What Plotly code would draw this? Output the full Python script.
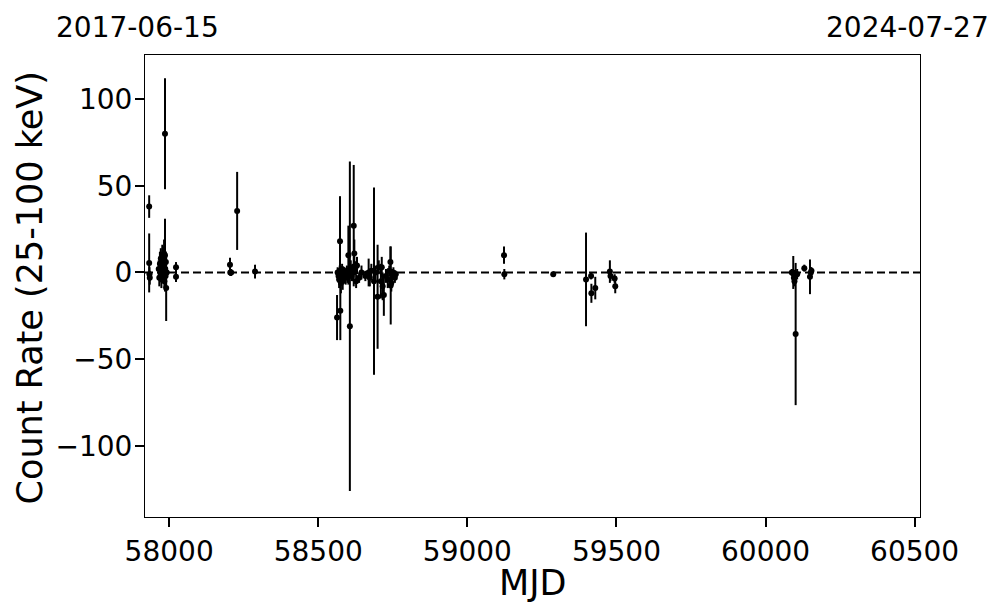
import plotly.graph_objects as go

# ---- data ----
mjd = [
    57933, 57933, 57934, 57935,
    57965, 57967, 57969, 57971, 57972, 57974, 57975, 57977, 57978, 57979,
    57981, 57983, 57984, 57986, 57986, 57987, 57988, 57989, 57990, 57992,
    58023, 58023, 58204, 58205, 58208, 58228, 58288,
    58563, 58565, 58568, 58570, 58572, 58573, 58574, 58576, 58578, 58580,
    58582, 58585, 58588, 58592, 58596, 58598, 58601, 58606, 58609, 58612,
    58616, 58619, 58621, 58624, 58627, 58630, 58637, 58645, 58658, 58669,
    58673, 58678, 58687, 58692, 58699, 58703, 58710, 58713, 58716, 58720,
    58727, 58733, 58738, 58742, 58743, 58745, 58748, 58752, 58757, 58760,
    59123, 59124, 59288, 59398, 59415, 59416, 59429, 59478, 59480, 59494,
    59496,
    60088, 60093, 60095, 60097, 60101, 60106, 60130, 60149, 60152, 60154,
]
rate = [
    38, 5.5, -1, -3,
    2, -3, 5, 0, 8, -4, 3, 10, -2, 7,
    0, 11, -5, 80, 10, 2, -2, 6, -9, 0,
    3, -2.5, 4.5, 0, 0, 35.5, 0.5,
    -26, 0, -2, -4, 1, 18, -22, -6, -3, 2,
    -5, -1, 0, -3, 1, -2, 10, -31, 3, -2,
    0, 27, 11, 2.5, -5, 4, -3, 0, -2, 0,
    -3, 1, -5, 0, -14, 3, -5, 3, -8, -13,
    -2, -4, 1, 6, -7.5, -6, -2, 0, -3, -1,
    10, -1, -1, -4, -2, -12, -9, 0.5, -2, -3.5,
    -8,
    0, 0, -3, -5, -35.5, -1, 2.5, -2.5, 0, 1,
]
err = [
    6.5, 17, 4, 4,
    5, 5, 7, 4, 6, 5, 4, 6, 3, 8,
    5, 8, 4, 32, 21, 5, 4, 5, 19, 3,
    3, 3, 4, 2, 2, 22.5, 4,
    13, 3, 4, 5, 3, 26, 17, 6, 4, 3,
    5, 3, 3, 4, 3, 4, 17, 95, 4, 3,
    5, 35, 8, 4, 4, 5, 3, 4, 3, 8,
    5, 4, 54, 4, 30, 4, 10, 6, 8, 12,
    4, 5, 3, 9, 22.5, 5, 4, 3, 3, 2,
    5, 3, 1.5, 27, 2, 5.5, 6.5, 6.5, 3, 2.5,
    4,
    2, 9.5, 4, 3, 41, 3, 2, 10, 3, 2,
]

x_ticks = [58000, 58500, 59000, 59500, 60000, 60500]
y_ticks = [-100, -50, 0, 50, 100]
date_labels = ["2017-06-15", "2024-07-27"]
x_range = [57919, 60518]
y_range = [-141, 125.4]

FONT = "DejaVu Sans"

fig = go.Figure()
fig.add_trace(go.Scatter(
    x=mjd, y=rate, mode="markers",
    marker=dict(color="black", size=6),
    error_y=dict(type="data", array=err, visible=True, color="black",
                 thickness=2, width=0),
    showlegend=False,
))

fig.add_shape(type="line", xref="paper", yref="y", x0=0, x1=1, y0=0, y1=0,
              line=dict(color="black", width=2, dash="8px,4px"))

axis_common = dict(
    showgrid=False, zeroline=False, showline=True, mirror=True,
    linecolor="black", linewidth=1, ticks="outside", ticklen=9,
    tickwidth=2, tickcolor="black",
    tickfont=dict(family=FONT, size=28, color="black"),
)

fig.update_xaxes(range=x_range, tickvals=x_ticks,
                 ticktext=[str(v) for v in x_ticks], **axis_common)
fig.update_yaxes(range=y_range, tickvals=y_ticks, ticklabelstandoff=-3,
                 **axis_common)

annots = [
    dict(text="Count Rate (25-100 keV)", x=-0.1484, y=0.4968, textangle=-90,
         font=dict(family=FONT, size=35, color="black")),
    dict(text="MJD", x=0.5, y=-0.1429,
         font=dict(family=FONT, size=35, color="black")),
    dict(text=date_labels[0], x=-0.0103, y=1.0606,
         font=dict(family=FONT, size=28, color="black")),
    dict(text=date_labels[1], x=0.9839, y=1.0606,
         font=dict(family=FONT, size=28, color="black")),
]
for a in annots:
    fig.add_annotation(xref="paper", yref="paper", showarrow=False,
                       xanchor="center", yanchor="middle", borderpad=0, **a)

# the page adds an 8px body margin, so the canvas is 8px smaller
fig.update_layout(
    width=989, height=605,
    margin=dict(l=137, r=77, t=47, b=96, pad=0),
    plot_bgcolor="white", paper_bgcolor="white",
)

fig.write_html("out.html")
